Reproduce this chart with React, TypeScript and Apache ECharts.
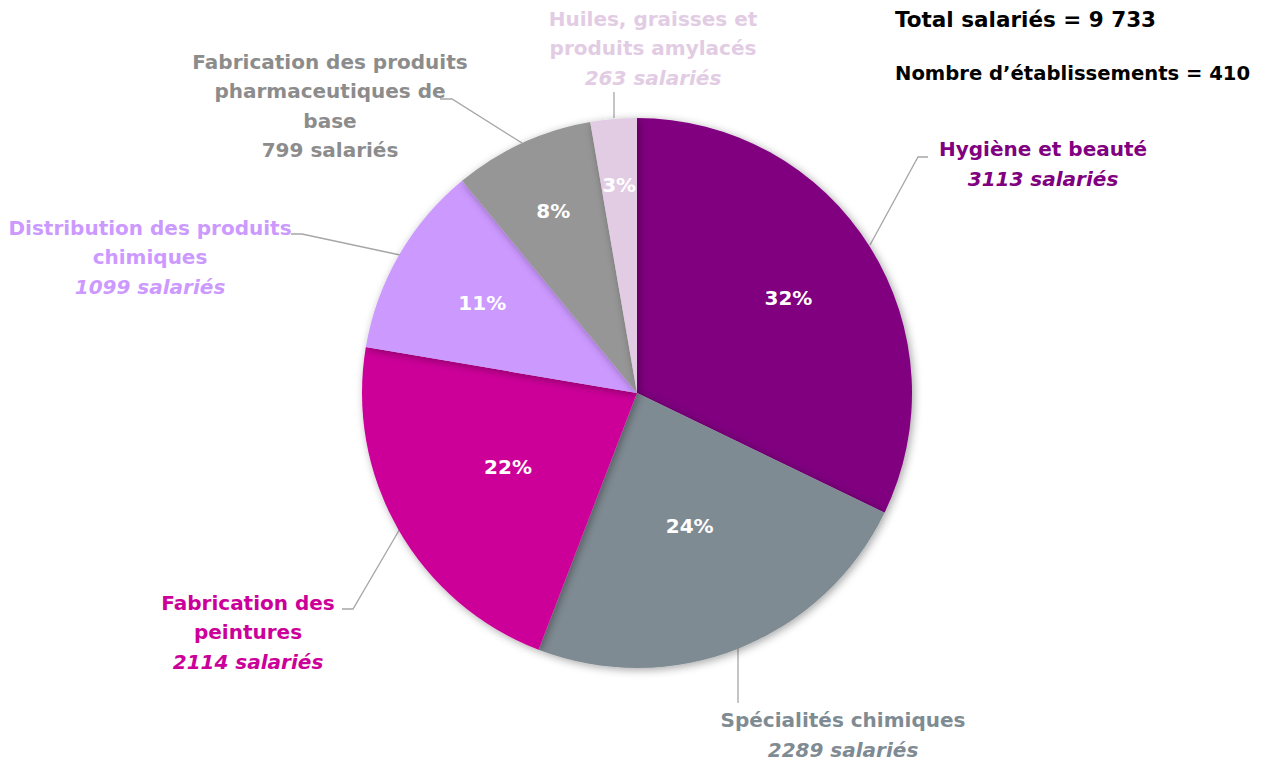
import React, { useEffect, useRef } from 'react';
import * as echarts from 'echarts';

const categories = [
  'Hygiène et beauté',
  'Spécialités chimiques',
  'Fabrication des peintures',
  'Distribution des produits chimiques',
  'Fabrication des produits pharmaceutiques de base',
  'Huiles, graisses et produits amylacés',
];
const labelNames = [
  'Hygiène et beauté',
  'Spécialités chimiques',
  'Fabrication des\npeintures',
  'Distribution des produits\nchimiques',
  'Fabrication des produits\npharmaceutiques de\nbase',
  'Huiles, graisses et\nproduits amylacés',
];
const salaries = [3113, 2289, 2114, 1099, 799, 263];
const sliceColors = ['#800080', '#7F8B93', '#CC0099', '#CC99FF', '#969696', '#E2CCE4'];
const labelColors = ['#800080', '#7F8B93', '#CC0099', '#CC99FF', '#8C8C8C', '#E2CCE4'];
const italicValue = [true, true, true, true, false, true];
const totalText = 'Total salariés = 9 733';
const establishmentsText = 'Nombre d’établissements = 410';

// layout (not data): outside label anchors, leader line points, percent label radius fractions
const labelAnchors = [
  [1043, 164],
  [843, 735],
  [248, 632],
  [150, 257],
  [330, 106],
  [653, 48],
];
const leaderLines = [
  [[870, 245], [918, 157], [928, 157]],
  [[738, 648], [738, 703], [738, 703]],
  [[401, 527], [353, 609], [342, 609]],
  [[400, 255], [302, 234], [291, 234]],
  [[522, 143], [452, 99], [440, 99]],
  [[614, 118], [614, 92], [614, 92]],
];
const pctRadiusFrac = [0.65, 0.52, 0.54, 0.65, 0.73, 0.76];

const FONT = 'DejaVu Sans';
const CX = 637;
const CY = 393;
const R = 275;

export default function App() {
  const ref = useRef<HTMLDivElement>(null);
  useEffect(() => {
    if (!ref.current) return;
    const chart = echarts.init(ref.current, null, { renderer: 'svg' });
    const data = categories.map((c, i) => ({ name: c, value: salaries[i], itemStyle: { color: sliceColors[i] } }));
    chart.setOption({
      animation: false,
      backgroundColor: '#ffffff',
      textStyle: { fontFamily: FONT },
      graphic: [
        {
          type: 'text',
          left: 895,
          top: 8,
          style: { text: totalText, font: `bold 21.5px "${FONT}"`, fill: '#000' },
        },
        {
          type: 'text',
          left: 895,
          top: 63,
          style: { text: establishmentsText, font: `bold 19.6px "${FONT}"`, fill: '#000' },
        },
      ],
      series: [
        {
          type: 'pie',
          center: [CX, CY],
          radius: R,
          startAngle: 90,
          clockwise: true,
          avoidLabelOverlap: false,
          emphasis: { disabled: true },
          itemStyle: {
            shadowBlur: 8,
            shadowColor: 'rgba(0,0,0,0.35)',
            shadowOffsetX: 2,
            shadowOffsetY: 2,
          },
          data: data.map((d, i) => ({
            ...d,
            label: {
              formatter: () =>
                `{n|${labelNames[i]}}\n{${italicValue[i] ? 'v' : 'vn'}|${salaries[i]} salariés}`,
              rich: {
                n: { color: labelColors[i], fontWeight: 'bold', fontSize: 20, lineHeight: 29.5, fontFamily: FONT, align: 'center' },
                v: { color: labelColors[i], fontWeight: 'bold', fontStyle: 'italic', fontSize: 20, lineHeight: 29.5, fontFamily: FONT, align: 'center' },
                vn: { color: labelColors[i], fontWeight: 'bold', fontSize: 20, lineHeight: 29.5, fontFamily: FONT, align: 'center' },
              },
            },
          })),
          label: { show: true, position: 'outside' },
          labelLine: { show: true, length: 20, length2: 10, lineStyle: { color: '#A6A6A6', width: 1.3 } },
          labelLayout: (params: any) => {
            const p = labelAnchors[params.dataIndex];
            return {
              x: p[0],
              y: p[1],
              align: 'center',
              verticalAlign: 'middle',
              labelLinePoints: leaderLines[params.dataIndex],
            };
          },
        },
        {
          type: 'pie',
          center: [CX, CY],
          radius: R * 1.3,
          startAngle: 90,
          clockwise: true,
          silent: true,
          emphasis: { disabled: true },
          percentPrecision: 0,
          itemStyle: { color: 'rgba(0,0,0,0)' },
          labelLine: { show: false },
          label: {
            show: true,
            position: 'inside',
            formatter: '{d}%',
            color: '#ffffff',
            fontWeight: 'bold',
            fontSize: 20,
            fontFamily: FONT,
          },
          labelLayout: (params: any) => {
            const r = params.labelRect;
            const lx = r.x + r.width / 2;
            const ly = r.y + r.height / 2;
            const vx = lx - CX;
            const vy = ly - CY;
            const len = Math.sqrt(vx * vx + vy * vy) || 1;
            const target = pctRadiusFrac[params.dataIndex] * R;
            return { dx: (vx / len) * target - vx, dy: (vy / len) * target - vy };
          },
          data: categories.map((c, i) => ({ name: c, value: salaries[i] })),
        },
      ],
    });
    return () => chart.dispose();
  }, []);
  return <div ref={ref} style={{ position: 'fixed', left: 0, top: 0, width: 1262, height: 761 }} />;
}
